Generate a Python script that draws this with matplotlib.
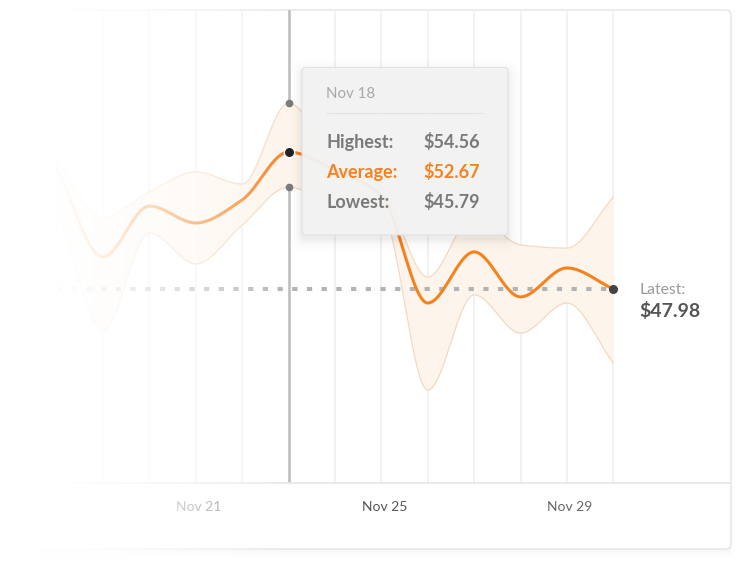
import numpy as np
import matplotlib
matplotlib.use('Agg')
import matplotlib.pyplot as plt
import matplotlib.transforms as mtransforms
from matplotlib.patches import FancyBboxPatch

# ---------------- data ----------------
dates = ['Nov 18', 'Nov 19', 'Nov 20', 'Nov 21', 'Nov 22', 'Nov 23', 'Nov 24',
         'Nov 25', 'Nov 26', 'Nov 27', 'Nov 28', 'Nov 29', 'Nov 30']
avg_price = [52.12, 49.08, 50.82, 50.24, 51.03, 52.67, 52.05, 51.20, 47.50, 49.25, 47.71, 48.70, 47.98]
high_price = [52.40, 50.44, 51.30, 51.99, 51.57, 54.35, 52.40, 51.44, 48.39, 50.51, 49.49, 49.38, 51.13]
low_price = [50.86, 46.58, 49.90, 48.84, 50.17, 51.47, 50.86, 50.62, 44.52, 47.78, 46.47, 47.50, 45.45]
tick_labels = ['Nov 21', 'Nov 25', 'Nov 29']
hover_index = 5
tooltip_date = 'Nov 18'
tooltip_labels = ['Highest:', 'Average:', 'Lowest:']
tooltip_values = ['$54.56', '$52.67', '$45.79']
latest_label = 'Latest:'
latest_value_text = '$47.98'

FONT = 'Lato'
ORANGE = '#f5821f'
W, H = 743, 565


def monotone(x, y, n=30):
    x = np.asarray(x, float)
    y = np.asarray(y, float)
    h = np.diff(x)
    d = np.diff(y) / h
    m = np.zeros_like(y)
    m[0], m[-1] = d[0], d[-1]
    for k in range(1, len(y) - 1):
        if d[k - 1] * d[k] <= 0:
            m[k] = 0
        else:
            w1 = 2 * h[k] + h[k - 1]
            w2 = h[k] + 2 * h[k - 1]
            m[k] = (w1 + w2) / (w1 / d[k - 1] + w2 / d[k])
    xs, ys = [], []
    for k in range(len(x) - 1):
        t = np.linspace(0, 1, n, endpoint=(k == len(x) - 2))
        h00 = 2 * t**3 - 3 * t**2 + 1
        h10 = t**3 - 2 * t**2 + t
        h01 = -2 * t**3 + 3 * t**2
        h11 = t**3 - t**2
        xs.append(x[k] + t * h[k])
        ys.append(h00 * y[k] + h10 * h[k] * m[k] + h01 * y[k + 1] + h11 * h[k] * m[k + 1])
    return np.concatenate(xs), np.concatenate(ys)


fig = plt.figure(figsize=(W / 100, H / 100), dpi=100)
fig.patch.set_facecolor('white')

# ---------- card background ----------
bg = fig.add_axes([0, 0, 1, 1], zorder=0)
bg.set_xlim(0, W)
bg.set_ylim(H, 0)
bg.axis('off')
for i, a in enumerate([0.018, 0.012, 0.008, 0.005]):
    bg.add_patch(FancyBboxPatch((-30, 10 + i + 1), 761 + i * 0.5, 539 + i * 1.5,
                                boxstyle='round,pad=0,rounding_size=6',
                                fc='black', ec='none', alpha=a))
bg.add_patch(FancyBboxPatch((-30, 10), 761, 539, boxstyle='round,pad=0,rounding_size=5',
                            fc='white', ec='#e4e4e4', lw=1.0))

# ---------- main chart ----------
ax_bottom_px, ax_top_px = 483, 10
ax = fig.add_axes([0, (H - ax_bottom_px) / H, 731 / W, (ax_bottom_px - ax_top_px) / H], zorder=1)
ax.patch.set_alpha(0)
x = np.arange(len(dates))
step_px = 46.39
x0_px = 56.6
ax.set_xlim(-x0_px / step_px, (731 - x0_px) / step_px)
ax.set_ylim(41.34, 57.53)
for s in ['top', 'left', 'right']:
    ax.spines[s].set_visible(False)
ax.spines['bottom'].set_color('#e6e6e6')
ax.spines['bottom'].set_linewidth(1.2)
ax.set_yticks([])

ax.vlines(x, 41.34, 57.53, color='#f1f1f1', lw=1.3, zorder=1)
ax.axvline(hover_index, color='#bdbdbd', lw=1.8, zorder=2)

xs, hs = monotone(x, high_price)
_, ls_ = monotone(x, low_price)
_, avs = monotone(x, avg_price)
ax.fill_between(xs, ls_, hs, color='#fdf5ec', lw=0, zorder=2)
ax.plot(xs, hs, color='#f3d9c0', lw=0.9, zorder=3)
ax.plot(xs, ls_, color='#f3d9c0', lw=0.9, zorder=3)

latest = avg_price[-1]
ax.plot([x[0], x[-1]], [latest, latest], color='#b3b3b3', lw=2.9,
        ls=(0, (1.3, 2.35)), dash_capstyle='butt', zorder=4)
ax.plot(xs, avs, color=ORANGE, lw=2.2, zorder=5, solid_capstyle='round')

ax.plot(hover_index, high_price[hover_index], 'o', ms=4.5, color='#7a7a7a', zorder=6)
ax.plot(hover_index, low_price[hover_index], 'o', ms=4.5, color='#7a7a7a', zorder=6)
ax.plot(hover_index, avg_price[hover_index], 'o', ms=7.5, mfc='#222222', mec='white', mew=1.0, zorder=7)
ax.plot(x[-1], latest, 'o', ms=5.5, color='#444444', zorder=7)

ax.annotate(latest_label, xy=(x[-1], latest), xytext=(26, -5), textcoords='offset pixels',
            ha='left', va='baseline', fontsize=11.3, color='#9a9a9a', family=FONT)
ax.annotate(latest_value_text, xy=(x[-1], latest), xytext=(26, -27.5), textcoords='offset pixels',
            ha='left', va='baseline', fontsize=14, color='#555555', family=FONT, weight='bold')

tick_pos = [dates.index(t) for t in tick_labels]
ax.set_xticks(tick_pos)
ax.set_xticklabels(tick_labels, fontsize=10, family=FONT)
ax.tick_params(axis='x', length=0, pad=13.3)
tick_colors = ['#8a8a8a', '#555555', '#666666']
shift = mtransforms.ScaledTranslation(3 / 100, 0, fig.dpi_scale_trans)
for lab, c in zip(ax.get_xticklabels(), tick_colors):
    lab.set_color(c)
    lab.set_transform(lab.get_transform() + shift)

# ---------- left fade overlay ----------
ov = fig.add_axes([0, 0, 1, 1], zorder=2)
ov.set_xlim(0, W)
ov.set_ylim(H, 0)
ov.axis('off')
px = np.arange(W) + 0.5
t = np.clip((px - 40) / 250.0, 0, 1)
alpha = 1 - t**1.5
img = np.ones((1, W, 4))
img[0, :, 3] = alpha
ov.imshow(img, extent=(0, W, H, 0), aspect='auto', interpolation='bilinear')
ov.set_xlim(0, W)
ov.set_ylim(H, 0)

# ---------- tooltip ----------
tp = fig.add_axes([0, 0, 1, 1], zorder=3)
tp.set_xlim(0, W)
tp.set_ylim(H, 0)
tp.axis('off')
tx, ty, tw, th = 302, 67.5, 206, 167.5
for pad, a in [(12, 0.006), (9, 0.008), (6, 0.012), (3.5, 0.018), (1.5, 0.025)]:
    tp.add_patch(FancyBboxPatch((tx - pad, ty - pad + 4), tw + 2 * pad, th + 2 * pad,
                                boxstyle='round,pad=0,rounding_size=%f' % (4 + pad),
                                fc='black', ec='none', alpha=a))
tp.add_patch(FancyBboxPatch((tx, ty), tw, th, boxstyle='round,pad=0,rounding_size=4',
                            fc='#f3f3f3', ec='#e0e0e0', lw=0.8, alpha=0.95))
tp.text(326, 98.3, tooltip_date, fontsize=10.8, color='#a8a8a8', family=FONT, va='baseline')
tp.plot([326, 482], [113.3, 113.3], color='#e3e3e3', lw=0.9)
row_colors = ['#7a7a7a', ORANGE, '#7a7a7a']
for i, (lab, val, c) in enumerate(zip(tooltip_labels, tooltip_values, row_colors)):
    yb = 148.3 + 30 * i
    tp.text(326, yb, lab, fontsize=13, color=c, family=FONT, weight='bold', va='baseline')
    tp.text(423, yb, val, fontsize=13, color=c, family=FONT, weight='bold', va='baseline')

fig.savefig('out.png', dpi=100, facecolor='white')
